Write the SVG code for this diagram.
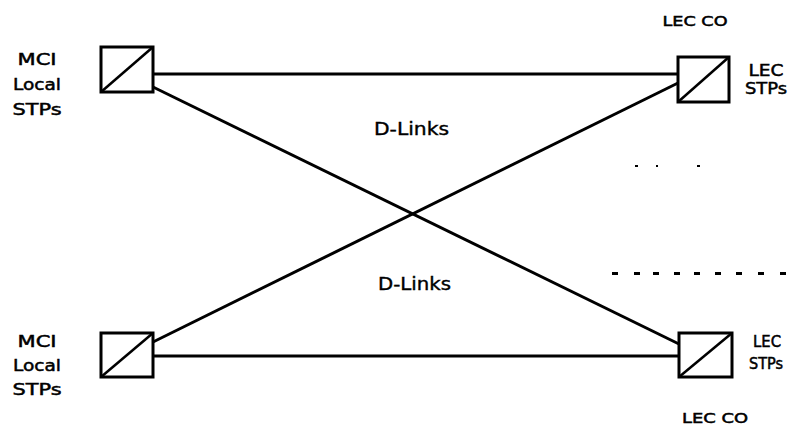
<svg xmlns="http://www.w3.org/2000/svg" width="796" height="438" viewBox="0 0 796 438">
<style>
.bx{fill:#fff;stroke:#000;stroke-width:3}
.dg{stroke:#000;stroke-width:2.5}
.ln{stroke:#000;stroke-width:3;fill:none}
.t{font-family:"DejaVu Sans","Liberation Sans",sans-serif;font-size:16px;fill:#000;text-anchor:middle;stroke:#000;stroke-width:0.5}
.d{font-family:"DejaVu Sans","Liberation Sans",sans-serif;font-size:18px;fill:#000;stroke:#000;stroke-width:0.4}
.mk{fill:#000}
</style>
<rect width="796" height="438" fill="#fff"/>
<g id="connectors">
<line class="ln" x1="153" y1="74" x2="678" y2="74"/>
<line class="ln" x1="153" y1="87" x2="679" y2="344"/>
<line class="ln" x1="153" y1="342" x2="678" y2="83"/>
<line class="ln" x1="153" y1="356" x2="679" y2="356"/>
</g>
<g id="mci-top">
<rect class="bx" x="101" y="47" width="52" height="45"/>
<line class="dg" x1="101" y1="92" x2="153" y2="47"/>
<text class="t" x="37" y="65" textLength="39" lengthAdjust="spacingAndGlyphs">MCI</text>
<text class="t" x="37" y="90" textLength="48" lengthAdjust="spacingAndGlyphs">Local</text>
<text class="t" x="37" y="115" textLength="49" lengthAdjust="spacingAndGlyphs">STPs</text>
</g>
<g id="mci-bottom">
<rect class="bx" x="101" y="333" width="52" height="44"/>
<line class="dg" x1="101" y1="377" x2="153" y2="333"/>
<text class="t" x="37" y="347" textLength="39" lengthAdjust="spacingAndGlyphs">MCI</text>
<text class="t" x="37" y="371" textLength="48" lengthAdjust="spacingAndGlyphs">Local</text>
<text class="t" x="37" y="395" textLength="49" lengthAdjust="spacingAndGlyphs">STPs</text>
</g>
<g id="lec-top">
<rect class="bx" x="678" y="57" width="51" height="45"/>
<line class="dg" x1="678" y1="102" x2="729" y2="57"/>
<text class="t" x="766" y="76" textLength="35" lengthAdjust="spacingAndGlyphs">LEC</text>
<text class="t" x="766" y="94" textLength="42" lengthAdjust="spacingAndGlyphs">STPs</text>
<text class="t" x="695" y="26" textLength="65" lengthAdjust="spacingAndGlyphs" style="font-size:14px">LEC CO</text>
</g>
<g id="lec-bottom">
<rect class="bx" x="679" y="333" width="53" height="44"/>
<line class="dg" x1="679" y1="377" x2="732" y2="333"/>
<text class="t" x="767" y="347" textLength="28" lengthAdjust="spacingAndGlyphs" style="font-size:15px">LEC</text>
<text class="t" x="766" y="369" textLength="34" lengthAdjust="spacingAndGlyphs" style="font-size:15px">STPs</text>
<text class="t" x="715" y="423" textLength="66" lengthAdjust="spacingAndGlyphs" style="font-size:14px">LEC CO</text>
</g>
<g id="labels">
<text class="d" x="374" y="135" textLength="75" lengthAdjust="spacingAndGlyphs">D-Links</text>
<text class="d" x="378" y="290" textLength="73" lengthAdjust="spacingAndGlyphs">D-Links</text>
</g>
<g id="marks">
<rect class="mk" x="635" y="165" width="3" height="2"/>
<rect class="mk" x="656" y="165" width="2" height="2"/>
<rect class="mk" x="697" y="165" width="3" height="2"/>
<g fill="#000">
<rect x="612" y="272" width="6" height="3"/>
<rect x="634" y="272" width="6" height="3"/>
<rect x="653" y="272" width="6" height="3"/>
<rect x="674" y="272" width="6" height="3"/>
<rect x="694" y="272" width="6" height="3"/>
<rect x="715" y="272" width="6" height="3"/>
<rect x="736" y="272" width="6" height="3"/>
<rect x="758" y="272" width="6" height="3"/>
<rect x="780" y="272" width="6" height="3"/>
</g>
</g>
</svg>
